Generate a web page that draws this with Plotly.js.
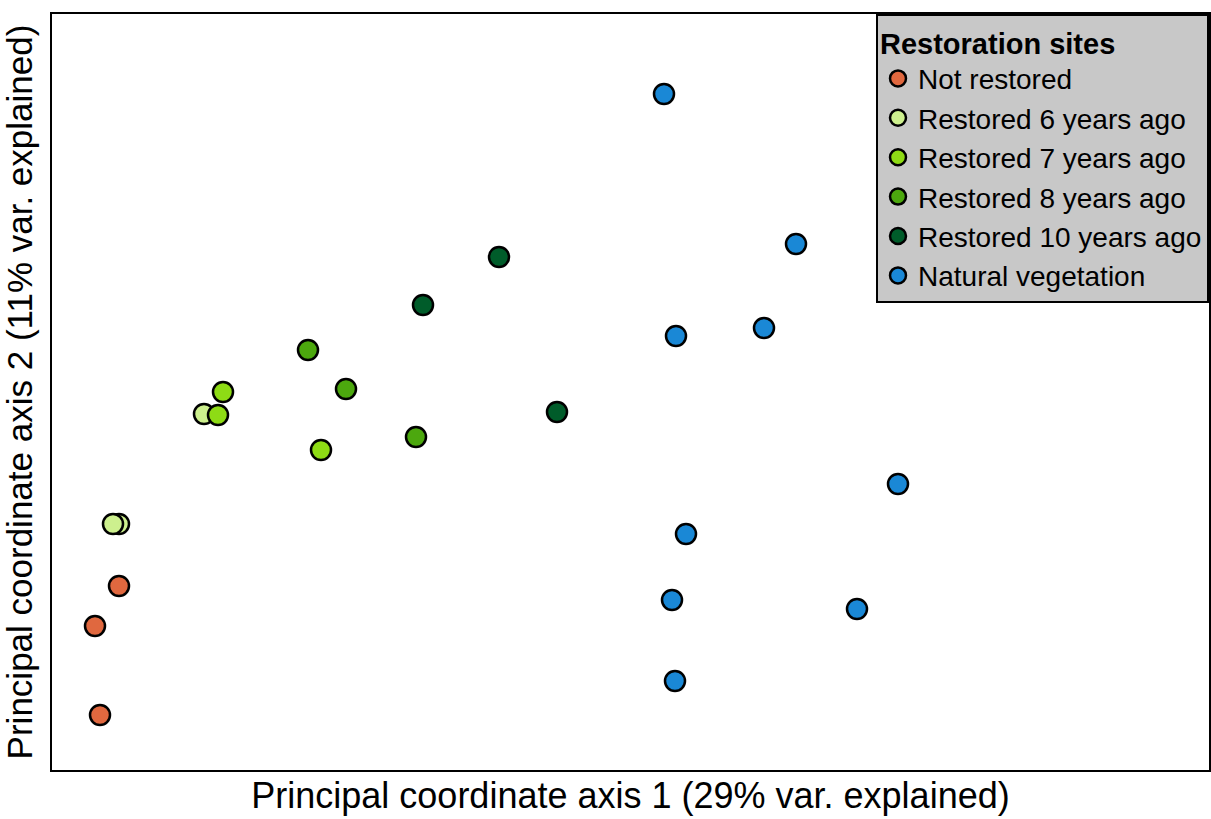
<!DOCTYPE html>
<html>
<head>
<meta charset="utf-8">
<script src="https://cdn.plot.ly/plotly-3.0.1.min.js"></script>
<style>html,body{margin:0;padding:0;background:#fff;}#chart{width:1211px;height:819px;}</style>
</head>
<body>
<div id="chart"></div>
<script>
// Estimated PCoA scores (arbitrary units)
const groups = ["Not restored","Restored 6 years ago","Restored 7 years ago","Restored 8 years ago","Restored 10 years ago","Natural vegetation"];
const colors = ["#E0683F","#CDF08E","#8EDB15","#4CA80E","#005C2A","#1A88D6"];
const pc1 = [
  [67, 43, 48],
  [67, 61, 152],
  [171, 166, 269],
  [256, 294, 364],
  [371, 447, 505],
  [612, 744, 624, 712, 846, 634, 620, 805, 623]
];
const pc2 = [
  [184, 144, 55],
  [246, 246, 356],
  [378, 355, 320],
  [420, 381, 333],
  [465, 513, 358],
  [676, 526, 434, 442, 286, 236, 170, 161, 89]
];

const traces = groups.map((g,i)=>({
  type:"scatter", mode:"markers", name:g,
  x: pc1[i], y: pc2[i],
  marker:{size:20, color:colors[i], line:{color:"#000", width:2.5}}
}));

const layout = {
  width:1211, height:819,
  margin:{l:52, r:2, t:14, b:49},
  paper_bgcolor:"#fff", plot_bgcolor:"#fff",
  font:{family:"Liberation Sans, Arial, sans-serif", color:"#000"},
  showlegend:true,
  xaxis:{range:[0,1157], showgrid:false, zeroline:false, showticklabels:false, ticks:"",
         showline:true, mirror:true, linecolor:"#000", linewidth:2,
         title:{text:"Principal coordinate axis 1 (29% var. explained)", font:{size:36}, standoff:12}},
  yaxis:{range:[0,756], showgrid:false, zeroline:false, showticklabels:false, ticks:"",
         showline:true, mirror:true, linecolor:"#000", linewidth:2,
         title:{text:"Principal coordinate axis 2 (11% var. explained)", font:{size:35}, standoff:8}},
  legend:{x:1, y:1, xanchor:"right", yanchor:"top", bgcolor:"#c8c8c8", bordercolor:"#000", borderwidth:2,
          font:{size:28}, tracegroupgap:0, itemsizing:"trace",
          title:{text:"<b>Restoration sites</b>", font:{size:29}}}
};
Plotly.newPlot("chart", traces, layout, {displayModeBar:false, staticPlot:true});
</script>
</body>
</html>
